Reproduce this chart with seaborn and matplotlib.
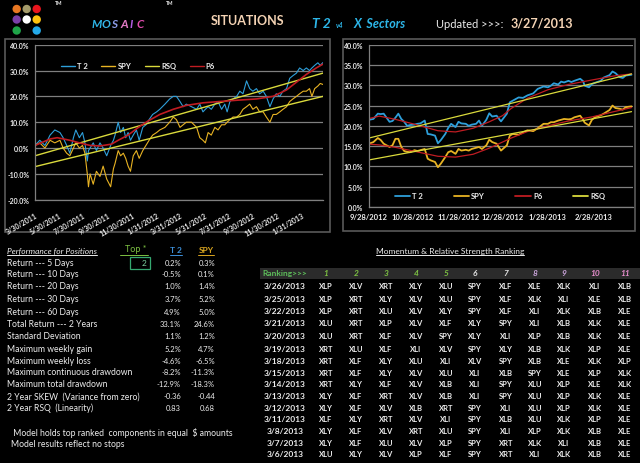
import pandas as pd
import matplotlib
matplotlib.use("Agg")
import matplotlib.pyplot as plt
from matplotlib.patches import Rectangle, Circle
from matplotlib.ticker import FuncFormatter
from matplotlib.lines import Line2D
import seaborn as sns

# ---------------- data: 2 year chart (percent) ----------------
left_dates = [
    "2011-03-30", "2011-04-11", "2011-04-24", "2011-05-07", "2011-05-19", "2011-06-01",
    "2011-06-09", "2011-06-18", "2011-06-26", "2011-07-05", "2011-07-11", "2011-07-20",
    "2011-07-28", "2011-08-03", "2011-08-09", "2011-08-12", "2011-08-16", "2011-08-24",
    "2011-09-01", "2011-09-10", "2011-09-18", "2011-09-27", "2011-10-07", "2011-10-14",
    "2011-10-18", "2011-10-26", "2011-11-01", "2011-11-08", "2011-11-14", "2011-11-20",
    "2011-11-26", "2011-12-03", "2011-12-11", "2011-12-18", "2011-12-27", "2012-01-04",
    "2012-01-12", "2012-01-21", "2012-01-31", "2012-02-08", "2012-02-21", "2012-03-04",
    "2012-03-13", "2012-03-21", "2012-03-30", "2012-04-07", "2012-04-15", "2012-04-28",
    "2012-05-11", "2012-05-19", "2012-05-27", "2012-06-02", "2012-06-09", "2012-06-17",
    "2012-06-26", "2012-07-04", "2012-07-13", "2012-07-21", "2012-07-27", "2012-08-03",
    "2012-08-11", "2012-08-20", "2012-08-28", "2012-09-05", "2012-09-14", "2012-09-22",
    "2012-09-30", "2012-10-09", "2012-10-17", "2012-10-26", "2012-11-03", "2012-11-12",
    "2012-11-20", "2012-11-28", "2012-12-07", "2012-12-15", "2012-12-24", "2013-01-01",
    "2013-01-09", "2013-01-18", "2013-01-26", "2013-02-04", "2013-02-12", "2013-02-20",
    "2013-02-26", "2013-03-05", "2013-03-13", "2013-03-19", "2013-03-26",
]
left_t2 = [
    1.0, 3.0, 1.0, 5.0, 7.0, 6.0,
    4.0, 1.0, -2.0, 4.0, 7.0, 4.0,
    6.0, 2.0, -5.0, -1.0, 0.0, 2.0,
    -1.0, 2.0, 0.0, -3.0, 1.0, 3.0,
    5.0, 10.0, 6.0, 8.0, 4.0, 6.0,
    3.0, 5.0, 7.0, 3.0, 8.0, 9.0,
    11.0, 13.0, 14.0, 15.0, 17.0, 19.0,
    20.0, 20.0, 18.0, 16.0, 17.0, 16.0,
    15.0, 17.0, 14.0, 15.0, 16.0, 15.0,
    17.0, 18.0, 15.0, 17.0, 14.0, 18.0,
    19.0, 20.0, 22.0, 21.0, 26.0, 23.0,
    22.0, 23.0, 21.0, 22.0, 20.0, 16.0,
    19.0, 21.0, 20.0, 22.0, 23.0, 27.0,
    28.0, 29.0, 31.0, 30.0, 31.0, 30.0,
    31.0, 32.0, 33.0, 32.0, 33.1,
]
left_spy = [
    1.0, 2.0, 0.0, 3.0, 2.0, 3.0,
    0.0, -2.0, -3.0, 0.0, 2.0, 0.0,
    1.0, -2.0, -10.0, -15.0, -10.0, -14.0,
    -9.0, -11.0, -7.0, -12.0, -15.0, -8.0,
    -6.0, -1.0, -3.0, -2.0, -4.0, -7.0,
    -9.0, -3.0, -1.0, -4.0, -1.0, 1.0,
    3.0, 5.0, 6.0, 7.0, 8.0, 10.0,
    12.0, 11.0, 8.0, 9.0, 10.0, 10.0,
    8.0, 4.0, 3.0, 2.0, 6.0, 5.0,
    8.0, 7.0, 9.0, 9.0, 10.0, 11.0,
    12.0, 12.0, 13.0, 15.0, 16.0, 17.0,
    15.0, 16.0, 14.0, 14.0, 12.0, 10.0,
    13.0, 13.0, 14.0, 15.0, 16.0, 18.0,
    19.0, 20.0, 21.0, 22.0, 22.0, 23.0,
    20.0, 23.0, 24.0, 25.0, 24.6,
]
left_p6_dates = [
    "2011-03-30", "2011-05-07", "2011-05-25", "2011-06-26", "2011-07-20", "2011-08-16",
    "2011-09-10", "2011-10-09", "2011-10-26", "2011-11-20", "2011-12-16", "2012-01-10",
    "2012-02-08", "2012-03-13", "2012-04-15", "2012-05-27", "2012-07-08", "2012-08-20",
    "2012-10-09", "2012-11-20", "2012-12-24", "2013-01-18", "2013-02-12", "2013-03-09",
    "2013-03-26",
]
left_p6 = [
    1.0, 3.5, 4.0, 3.0, 2.0, 1.0,
    0.8, 1.5, 3.0, 5.0, 8.0, 10.5,
    13.0, 15.0, 16.5, 17.5, 18.0, 18.5,
    19.0, 20.0, 22.5, 25.5, 28.5, 31.0,
    32.5,
]
left_rsq_dates = ["2011-03-30", "2013-03-26"]
left_rsq_t2 = [-3.0, 29.0]
left_rsq_spy = [-7.2, 20.0]
left_tick_dates = ["2011-03-30", "2011-05-30", "2011-07-30", "2011-09-30", "2011-11-30",
                   "2012-01-31", "2012-03-31", "2012-05-31", "2012-07-31", "2012-09-30",
                   "2012-11-30", "2013-01-31"]
left_tick_labels = ["3/30/2011", "5/30/2011", "7/30/2011", "9/30/2011", "11/30/2011",
                    "1/31/2012", "3/31/2012", "5/31/2012", "7/31/2012", "9/30/2012",
                    "11/30/2012", "1/31/2013"]

# ---------------- data: 6 month chart (percent) ----------------
right_dates = [
    "2012-09-28", "2012-10-01", "2012-10-04", "2012-10-06", "2012-10-08", "2012-10-10",
    "2012-10-12", "2012-10-14", "2012-10-16", "2012-10-18", "2012-10-20", "2012-10-22",
    "2012-10-24", "2012-10-26", "2012-10-29", "2012-10-31", "2012-11-02", "2012-11-05",
    "2012-11-07", "2012-11-09", "2012-11-12", "2012-11-14", "2012-11-16", "2012-11-19",
    "2012-11-21", "2012-11-23", "2012-11-26", "2012-11-28", "2012-11-30", "2012-12-03",
    "2012-12-05", "2012-12-07", "2012-12-10", "2012-12-12", "2012-12-14", "2012-12-17",
    "2012-12-19", "2012-12-21", "2012-12-24", "2012-12-27", "2012-12-31", "2013-01-02",
    "2013-01-04", "2013-01-08", "2013-01-11", "2013-01-14", "2013-01-18", "2013-01-21",
    "2013-01-25", "2013-01-28", "2013-01-30", "2013-02-01", "2013-02-04", "2013-02-06",
    "2013-02-08", "2013-02-11", "2013-02-13", "2013-02-15", "2013-02-19", "2013-02-21",
    "2013-02-22", "2013-02-25", "2013-02-27", "2013-03-01", "2013-03-05", "2013-03-07",
    "2013-03-11", "2013-03-13", "2013-03-15", "2013-03-18", "2013-03-20", "2013-03-22",
    "2013-03-26",
]
right_t2 = [
    21.5, 21.7, 23.0, 22.9, 23.0, 22.0,
    21.0, 21.2, 22.0, 23.0, 21.7, 21.0,
    20.0, 20.2, 20.3, 20.5, 20.6, 21.3,
    18.0, 17.9, 17.6, 15.7, 16.5, 18.0,
    19.5, 20.5, 19.7, 21.0, 20.6, 20.5,
    20.0, 20.3, 20.5, 21.3, 20.0, 21.5,
    23.1, 22.3, 22.5, 21.1, 23.0, 25.8,
    26.2, 27.0, 26.9, 27.5, 28.0, 29.1,
    29.7, 29.5, 29.9, 30.5, 30.2, 30.9,
    30.7, 31.1, 30.8, 31.1, 31.6, 31.0,
    29.9, 29.5, 30.3, 30.6, 31.1, 31.9,
    32.5, 33.4, 33.0, 32.0, 31.8, 32.4,
    32.6,
]
right_spy = [
    15.6, 16.0, 17.0, 16.5, 15.6, 15.2,
    14.8, 15.2, 16.8, 16.8, 14.8, 13.8,
    13.6, 13.5, 14.0, 13.8, 14.0, 14.3,
    11.9, 11.5, 11.1, 9.8, 10.7, 12.3,
    13.5, 13.8, 13.1, 14.3, 13.9, 14.1,
    13.9, 14.3, 14.6, 14.8, 14.3, 15.2,
    16.6, 16.0, 15.6, 13.9, 15.2, 17.6,
    18.0, 17.8, 18.4, 18.9, 18.7, 19.4,
    20.5, 20.5, 20.9, 20.9, 21.3, 21.5,
    21.7, 21.6, 21.7, 22.1, 22.5, 21.5,
    20.8, 20.1, 21.5, 22.1, 22.6, 23.0,
    23.9, 25.0, 24.4, 24.2, 24.0, 24.6,
    24.8,
]
right_p6_dates = ["2012-09-28", "2012-10-05", "2012-10-16", "2012-10-28", "2012-11-14",
                  "2012-11-26", "2012-12-08", "2012-12-19", "2012-12-28", "2013-01-03",
                  "2013-01-14", "2013-01-28", "2013-02-11", "2013-02-27", "2013-03-14",
                  "2013-03-26"]
right_p6_t2 = [21.8, 22.4, 21.6, 20.5, 18.8, 18.5, 19.4, 21.0, 22.5, 24.3,
               26.8, 28.9, 30.2, 31.3, 32.3, 32.8]
right_p6_spy = [15.5, 15.3, 14.7, 13.8, 12.5, 12.3, 13.0, 14.5, 16.0, 17.0,
                18.6, 20.0, 21.2, 22.2, 23.5, 24.5]
right_rsq_dates = ["2012-09-28", "2013-03-26"]
right_rsq_t2 = [17.0, 32.8]
right_rsq_spy = [11.6, 23.5]
right_tick_dates = ["2012-09-28", "2012-10-28", "2012-11-28", "2012-12-28", "2013-01-28", "2013-02-28"]
right_tick_labels = ["9/28/2012", "10/28/2012", "11/28/2012", "12/28/2012", "1/28/2013", "2/28/2013"]

# ---------------- data: tables ----------------
perf_labels = ["Return --- 5 Days", "Return --- 10 Days", "Return --- 20 Days",
               "Return --- 30 Days", "Return --- 60 Days", "Total Return --- 2 Years",
               "Standard Deviation", "Maximum weekly gain", "Maximum weekly loss",
               "Maximum continuous drawdown", "Maximum total drawdown",
               "2 Year SKEW  (Variance from zero)", "2 Year RSQ  (Linearity)"]
t2_stats = ["0.2%", "-0.5%", "1.0%", "3.7%", "4.9%", "33.1%", "1.1%",
            "5.2%", "-4.6%", "-8.2%", "-12.9%", "-0.36", "0.83"]
spy_stats = ["0.3%", "0.1%", "1.4%", "5.2%", "5.0%", "24.6%", "1.2%",
             "4.7%", "-6.5%", "-11.3%", "-18.3%", "-0.44", "0.68"]
top_n = "2"
notes = [" Model holds top ranked  components in equal  $ amounts", "Model results reflect no stops"]

rank_dates = ["3/26/2013", "3/25/2013", "3/22/2013", "3/21/2013", "3/20/2013",
              "3/19/2013", "3/18/2013", "3/15/2013", "3/14/2013", "3/13/2013",
              "3/12/2013", "3/11/2013", "3/8/2013", "3/7/2013", "3/6/2013"]
rank_rows = [
    "XLP XLV XRT XLY XLU SPY XLF XLE XLK XLI XLB",
    "XLP XRT XLY XLV XLU SPY XLF XLK XLI XLE XLB",
    "XLP XRT XLU XLV XLY SPY XLF XLI XLK XLB XLE",
    "XLU XRT XLP XLV XLF XLY SPY XLI XLB XLK XLE",
    "XLU XRT XLF XLV SPY XLY XLI XLP XLB XLK XLE",
    "XRT XLU XLF XLI XLV SPY XLY XLB XLK XLP XLE",
    "XRT XLF XLY XLU XLI XLV SPY XLB XLE XLK XLP",
    "XRT XLF XLY XLV XLU XLI XLB SPY XLE XLP XLK",
    "XRT XLY XLF XLV XLB XLI SPY XLU XLP XLE XLK",
    "XLY XLF XRT XLV XLB XLI SPY XLU XLP XLK XLE",
    "XLY XLF XLV XLB XRT SPY XLI XLU XLP XLK XLE",
    "XLF XLY XRT XLV XLI SPY XLB XLU XLK XLP XLE",
    "XLY XLF XLV XRT XLU SPY XLI XLP XLK XLB XLE",
    "XLY XLF XLU XLV XLP SPY XRT XLK XLI XLB XLE",
    "XLU XLY XLV XLP XLF SPY XRT XLI XLK XLB XLE",
]
rank_numbers = ["1", "2", "3", "4", "5", "6", "7", "8", "9", "10", "11"]

# ---------------- style ----------------
C_T2 = "#2E9FDA"
C_SPY = "#E8B323"
C_RSQ = "#DADA3C"
C_P6 = "#C01C22"
C_GRID = "#7F7F7F"
C_TXT = "#EDEDED"

sns.set_theme(style="dark")
plt.rcParams["font.family"] = ["Lato", "DejaVu Sans"]

W, H = 640, 464
fig = plt.figure(figsize=(W / 100, H / 100), dpi=100, facecolor="black")
bg = fig.add_axes([0, 0, 1, 1])
bg.set_xlim(0, W)
bg.set_ylim(H, 0)
bg.axis("off")


def px_axes(x0, y0, x1, y1):
    return fig.add_axes([x0 / W, 1 - y1 / H, (x1 - x0) / W, (y1 - y0) / H])


def style_axes(ax):
    ax.set_facecolor("black")
    ax.grid(axis="y", color=C_GRID, lw=0.9)
    ax.grid(axis="x", visible=False)
    ax.set_axisbelow(True)
    for s in ["top", "right"]:
        ax.spines[s].set_visible(False)
    for s in ["left", "bottom"]:
        ax.spines[s].set_color(C_GRID)
        ax.spines[s].set_linewidth(0.9)
    ax.tick_params(colors=C_GRID, labelcolor=C_TXT, labelsize=5, length=2.5, width=0.8, pad=1.5)
    ax.yaxis.set_major_formatter(FuncFormatter(lambda v, p: f"{v:.1f}%"))
    for lab in ax.get_yticklabels():
        lab.set_fontweight("bold")
    ax.set_xlabel("")
    ax.set_ylabel("")


# chart frames
bg.add_patch(Rectangle((5, 40), 325, 193, fill=False, ec="#5A5A5A", lw=1.2))
bg.add_patch(Rectangle((343, 40), 292, 192, fill=False, ec="#5A5A5A", lw=1.2))

# ---------------- left chart ----------------
axl = px_axes(35, 45.7, 323, 200.7)
dl = pd.DataFrame({"date": pd.to_datetime(left_dates), "T2": left_t2, "SPY": left_spy})
pl = pd.DataFrame({"date": pd.to_datetime(left_p6_dates), "P6": left_p6})
rl = pd.DataFrame({"date": pd.to_datetime(left_rsq_dates), "t2": left_rsq_t2, "spy": left_rsq_spy})
sns.lineplot(data=dl, x="date", y="T2", ax=axl, color=C_T2, lw=0.8)
sns.lineplot(data=dl, x="date", y="SPY", ax=axl, color=C_SPY, lw=0.8)
sns.lineplot(data=rl, x="date", y="t2", ax=axl, color=C_RSQ, lw=1.0)
sns.lineplot(data=rl, x="date", y="spy", ax=axl, color=C_RSQ, lw=1.0)
sns.lineplot(data=pl, x="date", y="P6", ax=axl, color=C_P6, lw=1.2)
axl.set_ylim(-20, 40)
axl.set_yticks([-20, -10, 0, 10, 20, 30, 40])
axl.set_xlim(pd.Timestamp("2011-03-30"), pd.Timestamp("2013-03-26"))
style_axes(axl)
axl.set_xticks(pd.to_datetime(left_tick_dates))
axl.set_xticklabels(left_tick_labels, rotation=30, ha="right", rotation_mode="anchor",
                    fontsize=5, fontweight="bold")
axl.tick_params(axis="x", pad=6)
handles = [Line2D([], [], color=c, lw=1.0) for c in [C_T2, C_SPY, C_RSQ, C_P6]]
axl.legend(handles, ["T 2", "SPY", "RSQ", "P6"], ncol=4, loc="center",
           bbox_to_anchor=(138 / W, 1 - 66.7 / H), bbox_transform=fig.transFigure,
           frameon=False, labelcolor=C_TXT, handlelength=1.8,
           handletextpad=0.3, columnspacing=1.8,
           prop={"weight": "bold", "size": 5.5})

# ---------------- right chart ----------------
axr = px_axes(369, 45.7, 633, 208)
dr = pd.DataFrame({"date": pd.to_datetime(right_dates), "T2": right_t2, "SPY": right_spy})
pr = pd.DataFrame({"date": pd.to_datetime(right_p6_dates), "t2": right_p6_t2, "spy": right_p6_spy})
rr = pd.DataFrame({"date": pd.to_datetime(right_rsq_dates), "t2": right_rsq_t2, "spy": right_rsq_spy})
sns.lineplot(data=dr, x="date", y="T2", ax=axr, color=C_T2, lw=1.3)
sns.lineplot(data=dr, x="date", y="SPY", ax=axr, color=C_SPY, lw=1.3)
sns.lineplot(data=pr, x="date", y="t2", ax=axr, color=C_P6, lw=0.9)
sns.lineplot(data=pr, x="date", y="spy", ax=axr, color=C_P6, lw=0.9)
sns.lineplot(data=rr, x="date", y="t2", ax=axr, color=C_RSQ, lw=0.9)
sns.lineplot(data=rr, x="date", y="spy", ax=axr, color=C_RSQ, lw=0.9)
axr.set_ylim(0, 40)
axr.set_yticks(range(0, 41, 5))
axr.set_xlim(pd.Timestamp("2012-09-28"), pd.Timestamp("2013-03-27"))
style_axes(axr)
axr.set_xticks(pd.to_datetime(right_tick_dates))
axr.set_xticklabels(right_tick_labels, fontsize=5.5, fontweight="bold")
handles = [Line2D([], [], color=c, lw=1.3) for c in [C_T2, C_SPY, C_P6, C_RSQ]]
axr.legend(handles, ["T 2", "SPY", "P6", "RSQ"], ncol=4, loc="center",
           bbox_to_anchor=(500 / W, 1 - 196.7 / H), bbox_transform=fig.transFigure,
           frameon=False, labelcolor=C_TXT, handlelength=2.0,
           handletextpad=0.3, columnspacing=4.0,
           prop={"weight": "bold", "size": 5.5})

# ---------------- header ----------------
dot_colors = [("#E87722", 16.7, 10), ("#A39A6A", 26.7, 10), ("#E8141C", 36.7, 10),
              ("#7B3FA8", 16.7, 20.5), ("#FFFFFF", 26.7, 20.5), ("#FFC20E", 36.7, 20.5),
              ("#1FA448", 16.7, 31.5), ("#23A9E8", 36.7, 31.5)]
for c, x, y in dot_colors:
    bg.add_patch(Circle((x, y), 4.2, color=c, lw=0))
bg.text(55, 3.5, "TM", color=C_TXT, fontsize=3.5, fontweight="bold", va="center")
bg.text(166, 3.5, "TM", color=C_TXT, fontsize=3.5, fontweight="bold", va="center")
for ch, x, c in zip("MOSAIC", [91.5, 102, 111.5, 120, 130, 137],
                    ["#2DB6E8", "#38B8EA", "#8E9EEA", "#E67CC8", "#B35DE2", "#E24DAE"]):
    bg.text(x, 24, ch, color=c, fontsize=8.5, fontweight="bold", style="italic", va="center")
bg.text(211, 21, "SITUATIONS", color="#F4D3B4", fontsize=9, fontweight="bold", va="center")
bg.text(312, 23.5, "T 2", color="#2DB6E8", fontsize=10, fontweight="bold", style="italic", va="center")
bg.text(336, 25.5, "v4", color="#2DB6E8", fontsize=5, fontweight="bold", style="italic", va="center")
bg.text(354, 24, "X  Sectors", color="#2DB6E8", fontsize=9, fontweight="bold", style="italic", va="center")
bg.text(436, 24.6, "Updated >>>:", color=C_TXT, fontsize=8, va="center")
bg.text(511, 23.5, "3/27/2013", color="#F4D3B4", fontsize=9, fontweight="bold", va="center")

# ---------------- left table ----------------
fig.canvas.draw()
renderer = fig.canvas.get_renderer()
inv = bg.transData.inverted()


def underline(t, color, y):
    bb = t.get_window_extent(renderer)
    (x0, _), (x1, _) = inv.transform([(bb.x0, bb.y0), (bb.x1, bb.y1)])
    bg.plot([x0, x1], [y, y], color=color, lw=0.7)


t = bg.text(7, 251, "Performance for Positions", color=C_TXT, fontsize=6, style="italic", va="center")
underline(t, C_TXT, 255.5)
t = bg.text(136, 250, "Top *", color="#7DC242", fontsize=6.5, ha="center", va="center")
bg.plot([120, 148], [255.5, 255.5], color="#7DC242", lw=0.7)
t = bg.text(176, 251, "T 2", color="#3D8FD8", fontsize=6, fontweight="bold", ha="center", va="center")
underline(t, "#3D8FD8", 255.5)
t = bg.text(206, 251, "SPY", color="#D9A520", fontsize=6, fontweight="bold", ha="center", va="center")
underline(t, "#D9A520", 255.5)
bg.add_patch(Rectangle((130, 257.5), 19.5, 12, fill=False, ec="#35A870", lw=0.9))
bg.text(146.5, 263.5, top_n, color="#7DD3A0", fontsize=6, ha="right", va="center")

row_y = [263.3, 275, 286.7, 300, 312.3, 324.7, 337, 349.5, 361.5, 373, 385, 397, 408.3]
for lab, a, b, y in zip(perf_labels, t2_stats, spy_stats, row_y):
    bg.text(7, y, lab, color=C_TXT, fontsize=6.2, va="center")
    bg.text(181, y, a, color=C_TXT, fontsize=5.5, ha="right", va="center")
    bg.text(215, y, b, color=C_TXT, fontsize=5.5, ha="right", va="center")
bg.text(11, 433, notes[0], color=C_TXT, fontsize=6.2, va="center")
bg.text(11, 444.5, notes[1], color=C_TXT, fontsize=6.2, va="center")

# ---------------- ranking table ----------------
t = bg.text(450, 251.5, "Momentum & Relative Strength Ranking", color=C_TXT, fontsize=6,
            ha="center", va="center")
underline(t, C_TXT, 255.5)
bg.add_patch(Rectangle((260, 268.5), 380, 11, color="#2B2B2B", lw=0))
bg.text(262, 274, "Ranking>>>", color="#5DBE5A", fontsize=6, fontweight="bold", va="center")
col_x = [326, 356, 386, 416, 446, 475, 506, 535, 564, 595, 625]
num_colors = ["#7DC242"] * 5 + ["#E6E6E6"] * 2 + ["#C9A3D9"] * 2 + ["#E58CCB"] * 2
for n, x, c in zip(rank_numbers, col_x, num_colors):
    bg.text(x, 274, n, color=c, fontsize=6, fontweight="bold", style="italic", ha="center", va="center")
rank_y = [287, 299.5, 312, 324, 336.5, 350, 361.7, 373.3, 385, 396.7, 408.3, 420, 431.7, 443.3, 455]
for d, row, y in zip(rank_dates, rank_rows, rank_y):
    bg.text(285, y, d, color=C_TXT, fontsize=6, fontweight="bold", ha="center", va="center")
    for tk, x in zip(row.split(), col_x):
        bg.text(x, y, tk, color=C_TXT, fontsize=5.5, fontweight="bold", ha="center", va="center")

fig.savefig("out.png", dpi=100, facecolor="black")
